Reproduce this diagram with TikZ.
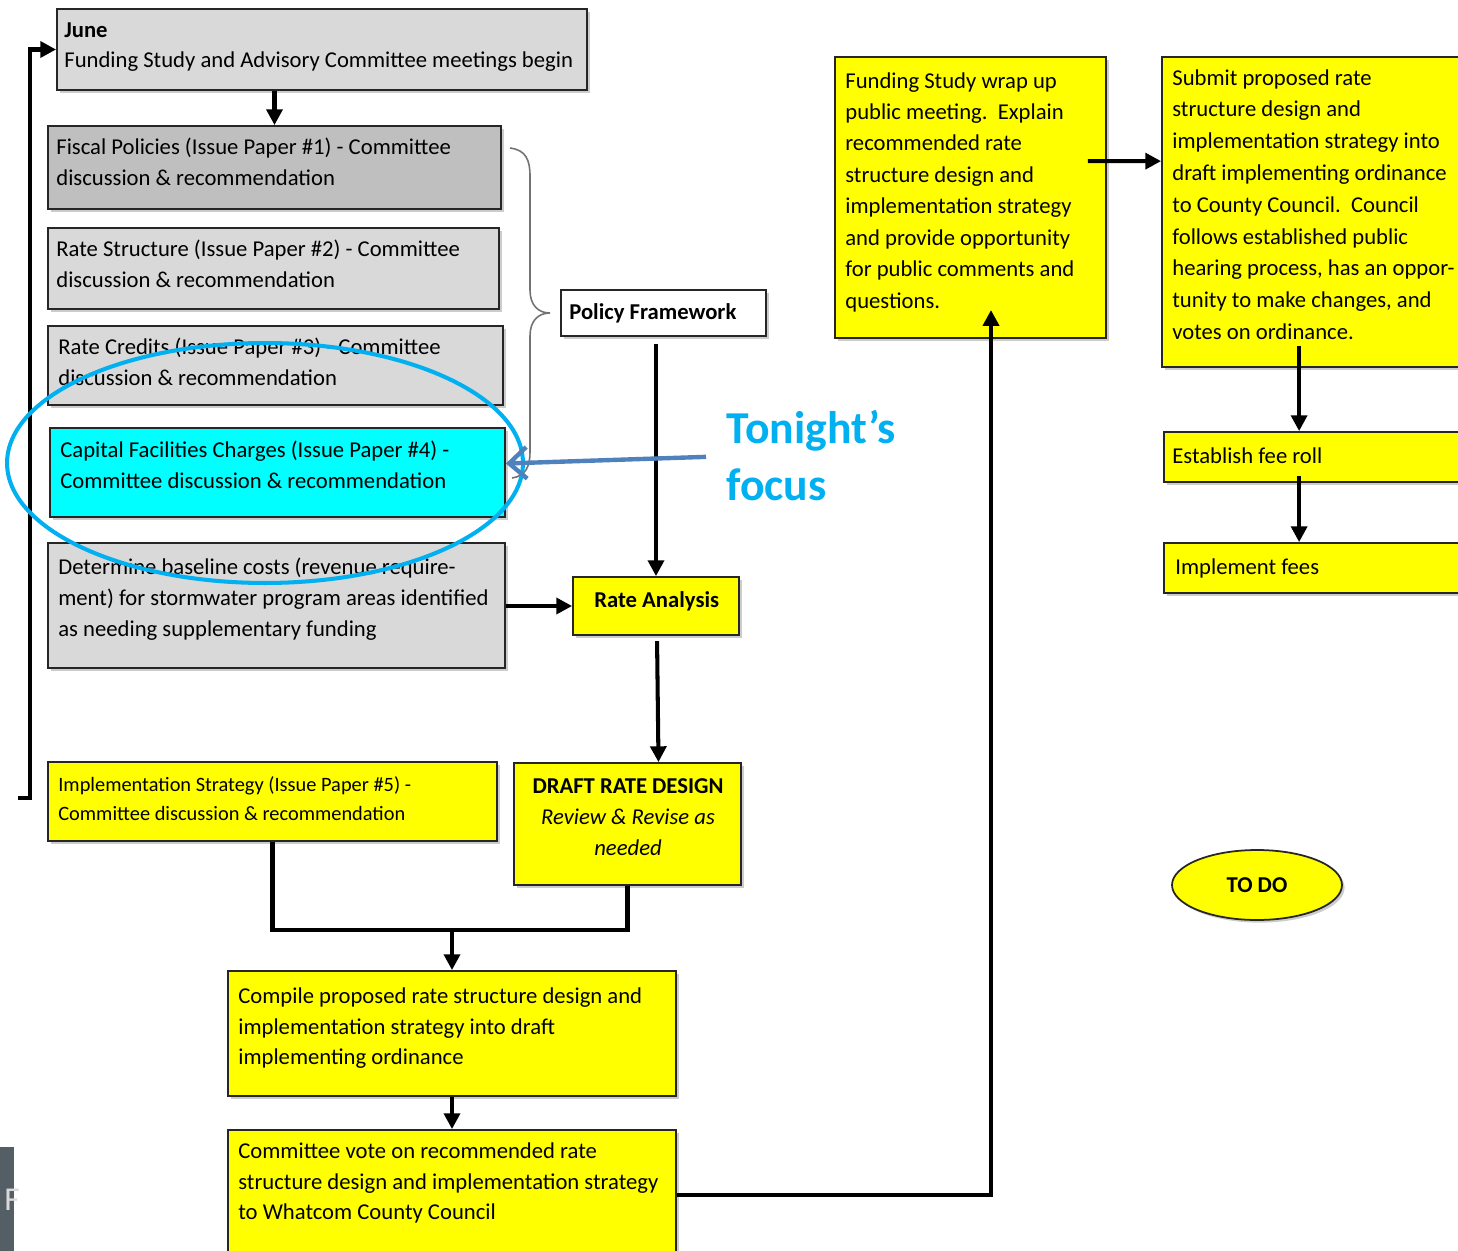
\documentclass[tikz,border=0pt]{standalone}
\usepackage{fontspec}
\setmainfont{Carlito}
\usetikzlibrary{fit,calc,arrows.meta,shadows,shapes.geometric}
\definecolor{boxgray}{HTML}{D9D9D9}
\definecolor{darkgray2}{HTML}{BFBFBF}
\definecolor{boxyellow}{HTML}{FFFF00}
\definecolor{boxcyan}{HTML}{00FFFF}
\definecolor{focusblue}{HTML}{00B0F0}
\definecolor{arrowblue}{HTML}{4F81BD}
\definecolor{sidegray}{HTML}{545E65}
\newcommand\fmain{\fontsize{12.9pt}{17.6pt}\selectfont}
\newcommand\fwrap{\fontsize{12.9pt}{17.9pt}\selectfont}
\newcommand\fsubmit{\fontsize{12.9pt}{18.1pt}\selectfont}
\newcommand\fimpl{\fontsize{11.6pt}{16.4pt}\selectfont}
\newcommand\fbig{\fontsize{26pt}{32.3pt}\selectfont\bfseries}
\begin{document}
\begin{tikzpicture}[x=0.02cm,y=-0.02cm,
  box/.style={draw=black!85, line width=1pt, inner sep=0pt, rectangle,
    drop shadow={shadow xshift=1.5pt,shadow yshift=-1.5pt,fill=black,opacity=0.2}},
  txt/.style={anchor=north west, inner sep=0pt, align=left, font=\fmain, execute at begin node=\strut},
  wtxt/.style={txt, font=\fwrap},
  stxt/.style={txt, font=\fsubmit},
  itxt/.style={txt, font=\fimpl},
  conn/.style={line width=2.3pt, black},
  arr/.style={conn, -{Triangle[length=9pt,width=9pt]}},
]
\useasboundingbox (0,0) rectangle (1458,1251);
\fill[white] (0,0) rectangle (1458,1251);

% left column boxes
\node[box, fill=boxgray, fit={(57,9) (587,90)}] (june) {};
\node[box, fill=darkgray2, fit={(48,126) (501,209)}] (fiscal) {};
\node[box, fill=boxgray, fit={(48,228) (499,309)}] (ratestr) {};
\node[box, fill=boxgray, fit={(48,326) (503,405)}] (credits) {};
\node[box, fill=boxcyan, fit={(50,428) (505,517)}] (capital) {};
\node[box, fill=boxgray, fit={(48,543) (505,668)}] (baseline) {};
\node[box, fill=boxyellow, fit={(48,762) (497,841)}] (implstrat) {};

% middle
\node[box, fill=white, fit={(561,290) (766,336)}] (policy) {};
\node[box, fill=boxyellow, fit={(573,577) (739,635)}] (rate) {};
\node[box, fill=boxyellow, fit={(514,763) (741,885)}] (draft) {};
\node[box, fill=boxyellow, fit={(228,971) (676,1096)}] (compile) {};
\node[box, fill=boxyellow, fit={(228,1130) (676,1260)}] (vote) {};

% right
\node[box, fill=boxyellow, fit={(835,57) (1106,338)}] (wrap) {};
\node[box, fill=boxyellow, fit={(1162,57) (1470,367)}] (submit) {};
\node[box, fill=boxyellow, fit={(1164,432) (1470,482)}] (feeroll) {};
\node[box, fill=boxyellow, fit={(1164,543) (1470,593)}] (implfees) {};
\node[draw=black!85, line width=1pt, fill=boxyellow, ellipse, minimum width=3.4cm, minimum height=1.4cm, inner sep=0pt,
  drop shadow={shadow xshift=1.5pt,shadow yshift=-1.5pt,fill=black,opacity=0.2},
  font=\fmain\bfseries] (todo) at (1257,885) {TO DO};

% texts
\node[txt] (tjune) at (64,22) {\textbf{June}\\Funding Study and Advisory Committee meetings begin};
\node[txt] (tfiscal) at (56,138) {Fiscal Policies (Issue Paper \#1) - Committee\\discussion \& recommendation};
\node[txt] (tratestr) at (56,240) {Rate Structure (Issue Paper \#2) - Committee\\discussion \& recommendation};
\node[txt] (tcredits) at (58,338) {Rate Credits (Issue Paper \#3) - Committee\\discussion \& recommendation};
\node[txt] (tcapital) at (60,441) {Capital Facilities Charges (Issue Paper \#4) -\\Committee discussion \& recommendation};
\node[txt] (tbaseline) at (58,558) {Determine baseline costs (revenue require-\\ment) for stormwater program areas identified\\as needing supplementary funding};
\node[itxt] (timpl) at (58,776) {Implementation Strategy (Issue Paper \#5) -\\Committee discussion \& recommendation};
\node[txt, font=\fmain\bfseries] (tpolicy) at (569,297) {Policy Framework};
\node[txt, font=\fmain\bfseries] (trate) at (594,585) {Rate Analysis};
\node[txt, anchor=north, align=center] (tdraft) at (628,778) {\textbf{DRAFT RATE DESIGN}\\\textit{Review \& Revise as}\\\textit{needed}};
\node[txt] (tcompile) at (238,987) {Compile proposed rate structure design and\\implementation strategy into draft\\implementing ordinance};
\node[txt] (tvote) at (238,1142) {Committee vote on recommended rate\\structure design and implementation strategy\\to Whatcom County Council};
\node[wtxt] (twrap) at (845,72) {Funding Study wrap up\\public meeting.\ \ Explain\\recommended rate\\structure design and\\implementation strategy\\and provide opportunity\\for public comments and\\questions.};
\node[stxt] (tsubmit) at (1172,69) {Submit proposed rate\\structure design and\\implementation strategy into\\draft implementing ordinance\\to County Council.\ \ Council\\follows established public\\hearing process, has an oppor-\\tunity to make changes, and\\votes on ordinance.};
\node[txt] (tfeeroll) at (1172,441) {Establish fee roll};
\node[txt] (timplfees) at (1175,552) {Implement fees};

% brace
\draw[black!55, line width=0.9pt] (510,148) .. controls (526,150) and (530,160) .. (530,176) -- (530,290)
  .. controls (530,305) and (538,313) .. (550,313) .. controls (538,313) and (530,321) .. (530,336)
  -- (530,452) .. controls (530,466) and (526,476) .. (512,478);

% connectors
\coordinate (loopend) at (18,798);
\draw[arr] (loopend) -- ++(12,0) |- (june.west);
\draw[arr] (june.south -| fiscal.north) -- (fiscal.north);
\draw[arr, shorten <=4pt] (policy.south -| rate.north) -- (rate.north);
\draw[arr] (baseline.east |- rate.west) -- (rate.west);
\draw[arr, shorten <=3pt] ($(rate.south)+(1,0)$) -- ($(draft.north)+(31,0)$);
\coordinate (join) at (452,930);
\draw[conn] (implstrat.south) |- (join) -| (draft.south);
\draw[arr] (join) -- (compile.north);
\draw[arr] (compile.south) -- (vote.north);
\coordinate (wrapin) at (991,310);
\draw[arr] (vote.east) -| (wrapin);
\draw[arr] ($(wrap.north east)+(-19,105)$) -- ($(submit.north west)+(0,105)$);
\draw[arr] ($(submit.south west)+(138,-22)$) -- ($(feeroll.north west)+(136,0)$);
\draw[arr] ($(feeroll.south west)+(136,-7)$) -- ($(implfees.north west)+(136,0)$);

% focus annotation
\node[draw=focusblue, line width=2.3pt, ellipse, minimum width=10.32cm, minimum height=4.8cm, inner sep=0pt] (ring) at (265,463) {};
\node[txt, font=\fbig, text=focusblue] (tonight) at (726,410) {Tonight’s\\focus};
\draw[arrowblue, line width=2.5pt, -{Straight Barb[length=10pt,width=18pt,line width=2.5pt]}] ($(tonight.west)+(-20,-7)$) -- ($(capital.east)+(0,-9)$);

% slide edge
\fill[sidegray] (0,1147) rectangle (14,1260);
\node[inner sep=0pt, anchor=base west, text=black!15, font=\fontsize{19pt}{22pt}\selectfont] (sidef) at (4,1210) {F};
\end{tikzpicture}
\end{document}
